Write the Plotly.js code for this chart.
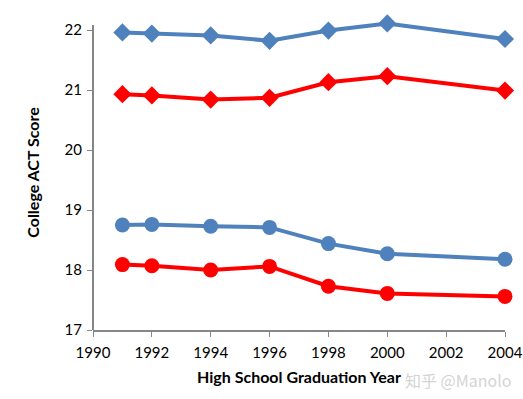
<!DOCTYPE html>
<html><head><meta charset="utf-8">
<script src="https://cdn.plot.ly/plotly-3.0.1.min.js"></script>
<style>body{margin:0;background:#fff}#c{width:523px;height:399px}</style>
</head><body><div id="c"></div>
<script>
const years = [1991, 1992, 1994, 1996, 1998, 2000, 2004];
const blueDiamond = [21.96, 21.94, 21.91, 21.82, 21.99, 22.11, 21.85];
const redDiamond  = [20.93, 20.91, 20.84, 20.87, 21.13, 21.23, 20.99];
const blueCircle  = [18.75, 18.76, 18.73, 18.71, 18.44, 18.27, 18.18];
const redCircle   = [18.09, 18.07, 18.00, 18.06, 17.73, 17.61, 17.56];
const xTicks = [1990, 1992, 1994, 1996, 1998, 2000, 2002, 2004];
const yTicks = [17, 18, 19, 20, 21, 22];
const yAxisTop = 22.083;

const BLUE = '#4F81BD', RED = '#FF0000';
function tr(y, color, symbol, size) {
  return {x: years, y: y, mode: 'lines+markers', type: 'scatter',
    line: {color: color, width: 4}, marker: {color: color, symbol: symbol, size: size},
    cliponaxis: false, hoverinfo: 'skip'};
}
const data = [
  tr(blueDiamond, BLUE, 'diamond', 14),
  tr(redDiamond, RED, 'diamond', 14),
  tr(blueCircle, BLUE, 'circle', 15),
  tr(redCircle, RED, 'circle', 15)
];
const F = 'Lato, "Open Sans", "DejaVu Sans", sans-serif';
const layout = {
  width: 523, height: 399, showlegend: false,
  margin: {l: 93, r: 18, t: 15, b: 69},
  paper_bgcolor: '#fff', plot_bgcolor: '#fff',
  font: {family: F, size: 15, color: '#000'},
  xaxis: {range: [1990, 2004], tickvals: xTicks, ticktext: xTicks.map(String),
    showgrid: false, zeroline: false, showline: true, linecolor: '#868686', linewidth: 2,
    ticks: 'outside', ticklen: 5, tickcolor: '#868686', tickwidth: 1,
    ticklabelstandoff: 3,
    tickfont: {size: 15, family: F},
    title: {text: '<b>High School Graduation Year</b>', font: {size: 16, family: F}, standoff: 12}},
  yaxis: {range: [17, 22.25], tickvals: yTicks, ticktext: yTicks.map(String),
    showgrid: false, zeroline: false, showline: false,
    ticks: 'outside', ticklen: 5, tickcolor: '#868686', tickwidth: 1,
    ticklabelstandoff: 2,
    tickfont: {size: 15, family: F},
    title: {text: '<b>College ACT Score</b>', font: {size: 16, family: F}, standoff: 20}},
  shapes: [{type: 'line', xref: 'paper', yref: 'y', x0: 0, x1: 0, y0: 17, y1: yAxisTop,
    line: {color: '#868686', width: 2}, layer: 'above'}],
  annotations: [{text: '知乎 @Manolo', xref: 'paper', yref: 'paper', x: 1.02, y: -0.16,
    xanchor: 'right', yanchor: 'middle', showarrow: false,
    font: {size: 16, color: '#d4d4d4', family: '"Noto Sans CJK SC", "Noto Sans", sans-serif'}}]
};
Plotly.newPlot('c', data, layout, {staticPlot: true, displayModeBar: false});
</script></body></html>
